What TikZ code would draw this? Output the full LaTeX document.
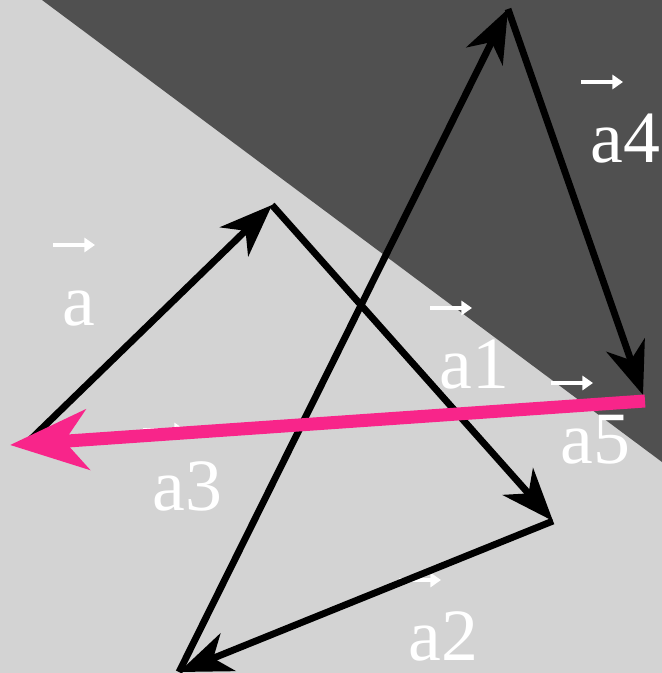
\documentclass[tikz,border=0pt]{standalone}
\usepackage{fontspec}
\newfontfamily\lblfont{LiberationSerif}[Extension=.ttf, UprightFont=*-Regular]
\usepackage{tikz}
\usetikzlibrary{arrows.meta, calc}
\definecolor{bglight}{HTML}{D3D3D3}
\definecolor{bgdark}{HTML}{505050}
\definecolor{sumpink}{HTML}{F8258A}

\tikzset{
  vecline/.style={line width=3.9pt, black, -{Stealth[length=30pt, width=23pt, inset=9pt]}},
  sumline/.style={line width=7.4pt, sumpink, -{Stealth[length=44pt, width=34pt, inset=13pt]}},
  veclabel/.style={anchor=base west, inner sep=0pt, text=white, font=\lblfont\fontsize{42}{48}\selectfont},
  overarrow/.style={white, line width=2.1pt, -{Triangle[length=6pt, width=8pt]}}
}

\begin{document}
\begin{tikzpicture}[x=0.02cm, y=-0.02cm]
  \useasboundingbox (0,0) rectangle (662,673);
  \fill[bglight] (0,0) rectangle (662,673);
  \fill[bgdark] (42,0) -- (662,0) -- (662,462) -- cycle;

  % labels
  \node[veclabel] (la)  at (62,325)  {a};
  \node[veclabel] (la1) at (439,388) {a1};
  \node[veclabel] (la2) at (408,660) {a2};
  \node[veclabel] (la3) at (152,510) {a3};
  \node[veclabel] (la4) at (590,162) {a4};
  \node[veclabel] (la5) at (560,463) {a5};
  \foreach \n in {la, la1, la2, la3, la4, la5}
    \draw[overarrow] ($(\n.base west)+(-9,-80)$) -- ++(42,0);

  % chain of vectors
  \coordinate (o)  at (30,440);
  \coordinate (p1) at (272,205);
  \coordinate (p2) at (553,521);
  \coordinate (p3) at (179,672);
  \coordinate (p4) at (508,9);
  \coordinate (p5) at (643,395);
  \draw[vecline] (o) -- (p1);
  \draw[vecline] (p1) -- (p2);
  \draw[vecline] (p2) -- (p3);
  \draw[vecline] (p3) -- (p4);
  \draw[vecline] (p4) -- (p5);

  % sum
  \coordinate (s) at (645,401);
  \coordinate (e) at (10,445);
  \draw[sumline] (s) -- (e);
\end{tikzpicture}
\end{document}
